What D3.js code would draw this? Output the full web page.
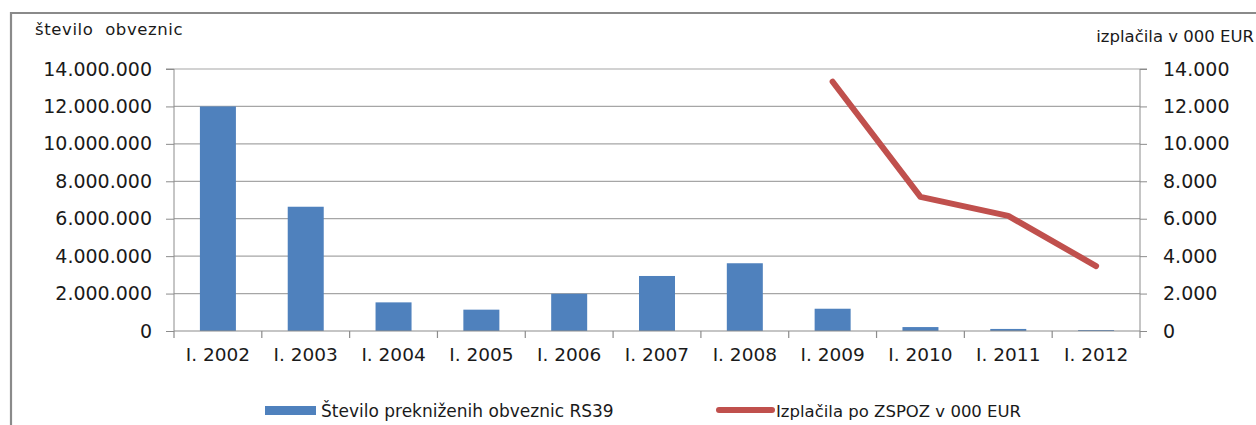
<!DOCTYPE html>
<html>
<head>
<meta charset="utf-8">
<script src="https://cdn.jsdelivr.net/npm/d3@7"></script>
<style>
  html, body { margin: 0; padding: 0; background: #fff; }
  svg { display: block; font-family: "DejaVu Sans", sans-serif; }
</style>
</head>
<body>
<div id="chart"></div>
<script>
const categories = ['I. 2002', 'I. 2003', 'I. 2004', 'I. 2005', 'I. 2006', 'I. 2007', 'I. 2008', 'I. 2009', 'I. 2010', 'I. 2011', 'I. 2012'];
const bondCounts = [12000000, 6640000, 1530000, 1140000, 1990000, 2940000, 3620000, 1190000, 210000, 110000, 50000];
const payouts = [null, null, null, null, null, null, null, 13320, 7170, 6150, 3470];
const leftTicks = [0, 2000000, 4000000, 6000000, 8000000, 10000000, 12000000, 14000000];
const rightTicks = [0, 2000, 4000, 6000, 8000, 10000, 12000, 14000];

const width = 1256;
const height = 425;
const margin = { top: 69, right: 116, bottom: 94, left: 174 };
const BLUE = '#4f81bd';
const RED = '#c0504d';
const GRID = '#a6a6a6';
const AXIS = '#8c8c8c';

const fmt = (v) => d3.format(',')(v).replace(/,/g, '.');

const svg = d3.select('#chart').append('svg').attr('width', width).attr('height', height);

// outer frame (runs past the right and bottom edges)
svg.append('path').attr('d', `M11,${height + 5}V13H${width + 5}`)
  .attr('fill', 'none').attr('stroke', '#8a8a8a').attr('stroke-width', 2.2);

const x = d3.scaleBand().domain(categories)
  .range([margin.left, width - margin.right]).paddingInner(0.59).paddingOuter(0.295);
const yL = d3.scaleLinear().domain([0, 14000000]).range([height - margin.bottom, margin.top]);
const yR = d3.scaleLinear().domain([0, 14000]).range([height - margin.bottom, margin.top]);

// gridlines
svg.append('g').selectAll('line').data(leftTicks.slice(1)).join('line')
  .attr('x1', margin.left).attr('x2', width - margin.right)
  .attr('y1', (d) => yL(d)).attr('y2', (d) => yL(d))
  .attr('stroke', GRID).attr('stroke-width', 1.2);

// bars
svg.append('g').selectAll('rect').data(bondCounts).join('rect')
  .attr('x', (d, i) => x(categories[i])).attr('width', x.bandwidth())
  .attr('y', (d) => yL(d)).attr('height', (d) => yL(0) - yL(d))
  .attr('fill', BLUE);

// left axis
const gl = svg.append('g').attr('transform', `translate(${margin.left},0)`)
  .call(d3.axisLeft(yL).tickValues(leftTicks).tickFormat(fmt).tickSize(8).tickPadding(14));
gl.select('.domain').attr('stroke', AXIS).attr('d', `M-8,${yL(14000000)}H0V${yL(0)}`);
gl.selectAll('.tick line').attr('stroke', AXIS);
gl.selectAll('.tick text').attr('font-size', 19).attr('fill', '#1a1a1a').attr('font-family', 'DejaVu Sans');

// right axis
const gr = svg.append('g').attr('transform', `translate(${width - margin.right},0)`)
  .call(d3.axisRight(yR).tickValues(rightTicks).tickFormat(fmt).tickSize(7).tickPadding(16));
gr.select('.domain').attr('stroke', AXIS).attr('d', `M7,${yR(14000)}H0V${yR(0)}`);
gr.selectAll('.tick line').attr('stroke', AXIS);
gr.selectAll('.tick text').attr('font-size', 19).attr('fill', '#1a1a1a').attr('font-family', 'DejaVu Sans');

// bottom axis: ticks at category boundaries
const gb = svg.append('g').attr('transform', `translate(0,${height - margin.bottom})`);
gb.append('line').attr('x1', margin.left).attr('x2', width - margin.right)
  .attr('stroke', AXIS).attr('stroke-width', 1.2);
const bounds = categories.map((c) => x(c) - x.step() * x.paddingOuter()).concat([width - margin.right]);
gb.selectAll('.btick').data(bounds).join('line').attr('class', 'btick')
  .attr('x1', (d) => d).attr('x2', (d) => d).attr('y1', 0).attr('y2', 7)
  .attr('stroke', AXIS).attr('stroke-width', 1.2);
gb.selectAll('text').data(categories).join('text')
  .attr('x', (d) => x(d) + x.bandwidth() / 2).attr('y', 30)
  .attr('text-anchor', 'middle').attr('font-size', 18.5).attr('fill', '#1a1a1a')
  .text((d) => d);

// payout line
const pts = payouts.map((v, i) => ({ c: categories[i], v })).filter((d) => d.v != null);
svg.append('path').datum(pts)
  .attr('d', d3.line().x((d) => x(d.c) + x.bandwidth() / 2).y((d) => yR(d.v)))
  .attr('fill', 'none').attr('stroke', RED).attr('stroke-width', 6)
  .attr('stroke-linejoin', 'round').attr('stroke-linecap', 'round');

// axis titles
svg.append('text').attr('x', 35).attr('y', 35).attr('font-size', 16.5).attr('fill', '#1a1a1a')
  .attr('letter-spacing', 0.6).style('white-space', 'pre').text('število  obveznic');
svg.append('text').attr('x', 1254).attr('y', 42).attr('text-anchor', 'end')
  .attr('font-size', 16.5).attr('fill', '#1a1a1a')
  .text('izplačila v 000 EUR');

// legend
const lg = svg.append('g');
lg.append('rect').attr('x', 265).attr('y', 406).attr('width', 51).attr('height', 9).attr('fill', BLUE);
lg.append('text').attr('x', 321).attr('y', 417).attr('font-size', 17).attr('fill', '#1a1a1a')
  .text('Število prekniženih obveznic RS39');
lg.append('line').attr('x1', 719).attr('x2', 772).attr('y1', 410).attr('y2', 410)
  .attr('stroke', RED).attr('stroke-width', 6).attr('stroke-linecap', 'round');
lg.append('text').attr('x', 776).attr('y', 417).attr('font-size', 16.5).attr('fill', '#1a1a1a')
  .text('Izplačila po ZSPOZ v 000 EUR');
</script>
</body>
</html>
